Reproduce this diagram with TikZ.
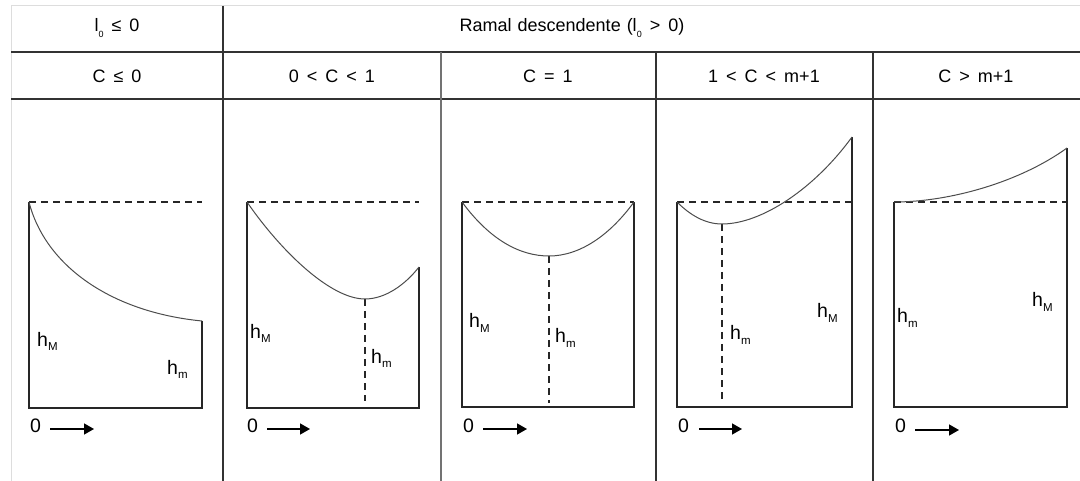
\documentclass[tikz,border=0pt]{standalone}
\usepackage{fontspec}
\setmainfont{Liberation Sans}
\usepackage{xcolor}
\usetikzlibrary{arrows.meta, positioning}

\definecolor{rulegray}{HTML}{333333}
\definecolor{rimgray}{HTML}{DDDDDD}
\newcommand{\lsub}[1]{\raisebox{-0.3em}{\fontsize{9}{9}\selectfont #1}}
\newcommand{\hsub}[1]{\raisebox{-0.25em}{\fontsize{11.5}{12}\selectfont #1}}
\newcommand{\gap}{\hspace{8pt}}

\begin{document}
\begin{tikzpicture}[
  x=1pt, y=-1pt,
  rim/.style={draw=rimgray, line width=1pt},
  rule/.style={draw=rulegray, line width=1.5pt},
  head/.style={font=\fontsize{18}{21}\selectfont, inner sep=0pt},
  frame/.style={draw=black!85, line width=1.3pt},
  guide/.style={draw=black!85, line width=1.2pt, dash pattern=on 7pt off 5pt},
  curve/.style={draw=black!70, line width=1pt},
  lab/.style={font=\fontsize{19.5}{22}\selectfont, inner sep=0pt, anchor=base west},
  arr/.style={-{Triangle[length=10pt, width=11pt]}, line width=1.4pt}
]
  \useasboundingbox (0,0) rectangle (1080,481);

  % table lines
  \draw[rim] (1080,6) -- (11,6) -- (11,481);
  \draw[rule] (11,52) -- (1080,52);
  \draw[rule] (11,99) -- (1080,99);
  \draw[rule] (223,6) -- (223,481);
  \draw[rule, draw=black!55] (441,52) -- (441,481);
  \draw[rule] (656,52) -- (656,481);
  \draw[rule] (873,52) -- (873,481);

  % headings
  \node[head] (lzero) at (117,28) {l\lsub{0}\gap≤\gap0};
  \node[head] (ramal) at (572,28) {Ramal\hspace{6pt}descendente\hspace{6pt}(l\lsub{0}\gap>\gap0)};
  \node[head] (cneg) at (117,76) {C\gap≤\gap0};
  \node[head] (cone) at (332,76) {0\gap<\gap C\gap<\gap1};
  \node[head] (ceq) at (548,76) {C\gap=\gap1};
  \node[head] (cmid) at (764,76) {1\gap<\gap C\gap<\gap m+1};
  \node[head] (cbig) at (976,76) {C\gap>\gap m+1};

  % C <= 0
  \coordinate (atl) at (29,202); \coordinate (abl) at (29,408);
  \coordinate (abr) at (202,408); \coordinate (aend) at (202,321);
  \coordinate (atr) at (202,202);
  \draw[frame] (atl) -- (abl) -- (abr) -- (aend);
  \draw[guide] (atl) -- (atr);
  \draw[curve] (atl) .. controls (45,265) and (110,312) .. (aend);
  \node[lab] (ahM) at (37,346) {h\hsub{M}};
  \node[lab] (ahm) at (167,374) {h\hsub{m}};
  \node[lab] (azero) at (30,432) {0};
  \coordinate (aa) at (50,429); \coordinate (ab) at (94,429);
  \draw[arr] (aa) -- (ab);

  % 0 < C < 1
  \coordinate (btl) at (247,202); \coordinate (bbl) at (247,408);
  \coordinate (bbr) at (419,408); \coordinate (bend) at (419,267);
  \coordinate (btr) at (419,202); \coordinate (bmin) at (365,299);
  \coordinate (bfoot) at (365,401);
  \draw[frame] (btl) -- (bbl) -- (bbr) -- (bend);
  \draw[guide] (btl) -- (btr);
  \draw[guide] (bmin) -- (bfoot);
  \draw[curve] (btl) .. controls (280,250) and (330,299) .. (bmin)
    .. controls (385,299) and (405,285) .. (bend);
  \node[lab] (bhM) at (250,338) {h\hsub{M}};
  \node[lab] (bhm) at (371,363) {h\hsub{m}};
  \node[lab] (bzero) at (247,432) {0};
  \coordinate (ba) at (267,429); \coordinate (bb) at (310,429);
  \draw[arr] (ba) -- (bb);

  % C = 1
  \coordinate (ctl) at (462,202); \coordinate (cbl) at (462,407);
  \coordinate (cbr) at (634,407); \coordinate (ctr) at (634,202);
  \coordinate (cmin) at (549,256); \coordinate (cfoot) at (549,403);
  \draw[frame] (ctl) -- (cbl) -- (cbr) -- (ctr);
  \draw[guide] (ctl) -- (ctr);
  \draw[guide] (cmin) -- (cfoot);
  \draw[curve] (ctl) .. controls (490,240) and (520,256) .. (cmin)
    .. controls (580,256) and (610,235) .. (ctr);
  \node[lab] (chM) at (469,328) {h\hsub{M}};
  \node[lab] (chm) at (555,343) {h\hsub{m}};
  \node[lab] (czero) at (463,432) {0};
  \coordinate (ca) at (483,429); \coordinate (cb) at (527,429);
  \draw[arr] (ca) -- (cb);

  % 1 < C < m+1
  \coordinate (dtl) at (677,202); \coordinate (dbl) at (677,407);
  \coordinate (dbr) at (852,407); \coordinate (dend) at (852,137);
  \coordinate (dtr) at (852,202);
  \coordinate (dmin) at (722,224); \coordinate (dfoot) at (722,402);
  \draw[frame] (dtl) -- (dbl) -- (dbr) -- (dend);
  \draw[guide] (dtl) -- (dtr);
  \draw[guide] (dmin) -- (dfoot);
  \draw[curve] (dtl) .. controls (690,215) and (705,224) .. (dmin)
    .. controls (762,224) and (815,188) .. (dend);
  \node[lab] (dhm) at (730,340) {h\hsub{m}};
  \node[lab] (dhM) at (817,318) {h\hsub{M}};
  \node[lab] (dzero) at (678,432) {0};
  \coordinate (da) at (699,429); \coordinate (db) at (742,429);
  \draw[arr] (da) -- (db);

  % C > m+1
  \coordinate (etl) at (894,202); \coordinate (ebl) at (894,407);
  \coordinate (ebr) at (1067,407); \coordinate (eend) at (1067,148);
  \coordinate (etr) at (1067,202);
  \draw[frame] (etl) -- (ebl) -- (ebr) -- (eend);
  \draw[guide] (etl) -- (etr);
  \draw[curve] (etl) .. controls (950,202) and (1020,182) .. (eend);
  \node[lab] (ehm) at (897,323) {h\hsub{m}};
  \node[lab] (ehM) at (1032,307) {h\hsub{M}};
  \node[lab] (ezero) at (895,432) {0};
  \coordinate (ea) at (915,430); \coordinate (eb) at (959,430);
  \draw[arr] (ea) -- (eb);
\end{tikzpicture}
\end{document}
